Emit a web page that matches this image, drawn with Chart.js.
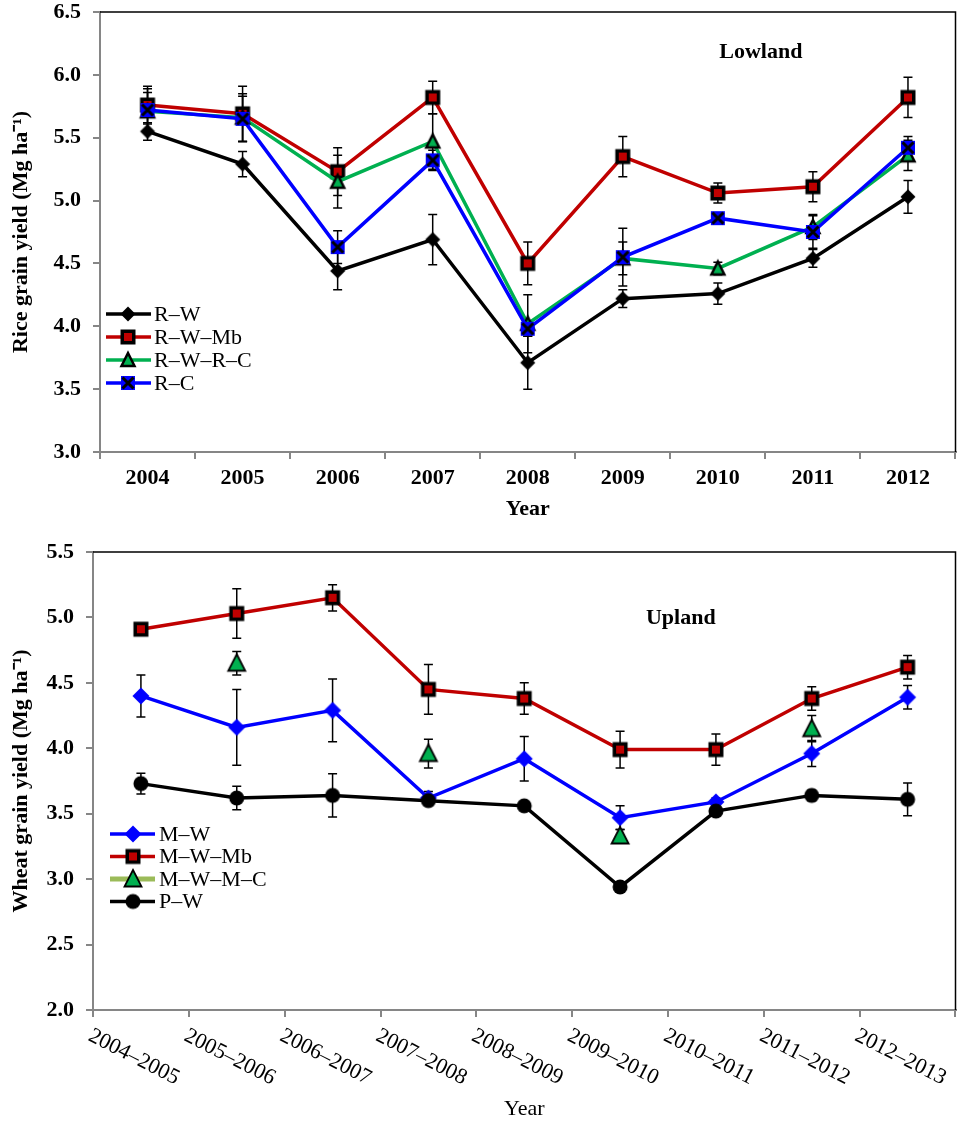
<!DOCTYPE html>
<html>
<head>
<meta charset="utf-8">
<script src="https://cdn.jsdelivr.net/npm/chart.js@4.4.0/dist/chart.umd.min.js"></script>
<style>
html,body{margin:0;padding:0;background:#fff;}
#wrap{position:relative;width:965px;height:1121px;overflow:hidden;}
#c1{position:absolute;left:0;top:0;}
#c2{position:absolute;left:0;top:520px;}
</style>
</head>
<body>
<div id="wrap">
<canvas id="c1" width="965" height="520"></canvas>
<canvas id="c2" width="965" height="601"></canvas>
</div>
<script>
const FONT = "'Liberation Serif', 'Times New Roman', serif";

// ---------- Top chart data (Lowland, rice) ----------
const years = ['2004','2005','2006','2007','2008','2009','2010','2011','2012'];
const riceRW      = [5.55, 5.29, 4.44, 4.69, 3.71, 4.22, 4.26, 4.54, 5.03];
const riceRWErr   = [0.07, 0.10, 0.15, 0.20, 0.21, 0.07, 0.085, 0.07, 0.13];
const riceRWMb    = [5.76, 5.69, 5.23, 5.82, 4.50, 5.35, 5.06, 5.11, 5.82];
const riceRWMbErr = [0.15, 0.22, 0.19, 0.13, 0.17, 0.16, 0.08, 0.12, 0.16];
const riceRWRC    = [5.71, 5.66, 5.15, 5.47, 4.02, 4.54, 4.46, 4.79, 5.36];
const riceRWRCErr = [0.15, 0.19, 0.21, 0.22, 0.23, 0.13, 0.05, 0.10, 0.12];
const riceRC      = [5.72, 5.65, 4.63, 5.32, 3.98, 4.55, 4.86, 4.75, 5.42];
const riceRCErr   = [0.17, 0.18, 0.13, 0.08, 0.06, 0.23, 0.02, 0.13, 0.09];
const riceLabels  = ['R–W', 'R–W–Mb', 'R–W–R–C', 'R–C'];

// ---------- Bottom chart data (Upland, wheat) ----------
const wheatYears   = ['2004–2005','2005–2006','2006–2007','2007–2008','2008–2009','2009–2010','2010–2011','2011–2012','2012–2013'];
const wheatMW      = [4.40, 4.16, 4.29, 3.62, 3.92, 3.47, 3.59, 3.96, 4.39];
const wheatMWErr   = [0.16, 0.29, 0.24, 0.05, 0.17, 0.09, 0.03, 0.10, 0.09];
const wheatMWMb    = [4.91, 5.03, 5.15, 4.45, 4.38, 3.99, 3.99, 4.38, 4.62];
const wheatMWMbErr = [0.03, 0.19, 0.10, 0.19, 0.12, 0.14, 0.12, 0.09, 0.09];
const wheatMWMC    = [null, 4.65, null, 3.96, null, 3.33, null, 4.15, null];
const wheatMWMCErr = [null, 0.09, null, 0.11, null, 0.05, null, 0.10, null];
const wheatPW      = [3.73, 3.62, 3.64, 3.60, 3.56, 2.94, 3.52, 3.64, 3.61];
const wheatPWErr   = [0.08, 0.09, 0.165, 0.03, 0.02, 0.04, 0.02, 0.04, 0.125];
const wheatLabels  = ['M–W', 'M–W–Mb', 'M–W–M–C', 'P–W'];

const riceYTicks  = {min: 3.0, max: 6.5, step: 0.5};
const wheatYTicks = {min: 2.0, max: 5.5, step: 0.5};

// ---------- marker images ----------
function marker(kind) {
  const s = 22;
  const c = document.createElement('canvas');
  c.width = s; c.height = s;
  const g = c.getContext('2d');
  const m = s / 2;
  g.lineJoin = 'miter';
  if (kind === 'diamondBlack' || kind === 'diamondBlue') {
    const h = kind === 'diamondBlack' ? 7.5 : 8.5;
    g.beginPath();
    g.moveTo(m, m - h); g.lineTo(m + h, m); g.lineTo(m, m + h); g.lineTo(m - h, m); g.closePath();
    g.fillStyle = kind === 'diamondBlack' ? '#000' : '#0000FF';
    g.fill();
  } else if (kind === 'squareRed') {
    g.fillStyle = '#000';
    g.fillRect(m - 7.5, m - 7.5, 15, 15);
    g.fillStyle = '#C00000';
    g.fillRect(m - 4, m - 4, 8, 8);
  } else if (kind === 'triSmall' || kind === 'triBig') {
    const w = kind === 'triSmall' ? 6.5 : 8.5;
    const hTop = kind === 'triSmall' ? 7 : 9;
    const hBot = kind === 'triSmall' ? 6 : 7.5;
    g.beginPath();
    g.moveTo(m, m - hTop); g.lineTo(m + w, m + hBot); g.lineTo(m - w, m + hBot); g.closePath();
    g.fillStyle = '#00B050';
    g.fill();
    g.strokeStyle = '#000';
    g.lineWidth = kind === 'triSmall' ? 2.5 : 1.8;
    g.stroke();
  } else if (kind === 'squareX') {
    g.fillStyle = '#0000FF';
    g.fillRect(m - 7, m - 7, 14, 14);
    g.strokeStyle = '#000';
    g.lineWidth = 3;
    g.beginPath();
    g.moveTo(m - 5.5, m - 5.5); g.lineTo(m + 5.5, m + 5.5);
    g.moveTo(m + 5.5, m - 5.5); g.lineTo(m - 5.5, m + 5.5);
    g.stroke();
  } else if (kind === 'circle') {
    g.beginPath();
    g.arc(m, m, 7.5, 0, Math.PI * 2);
    g.fillStyle = '#000';
    g.fill();
  }
  return c;
}

const mk = {
  diamondBlack: marker('diamondBlack'),
  diamondBlue: marker('diamondBlue'),
  squareRed: marker('squareRed'),
  triSmall: marker('triSmall'),
  triBig: marker('triBig'),
  squareX: marker('squareX'),
  circle: marker('circle')
};

// ---------- plugins ----------
const errorBarPlugin = {
  id: 'errorBars',
  beforeDatasetsDraw(chart) {
    const {ctx, scales: {x, y}} = chart;
    ctx.save();
    ctx.strokeStyle = '#000';
    ctx.lineWidth = 1.5;
    chart.data.datasets.forEach(ds => {
      const errs = ds.errorBars;
      if (!errs) return;
      ds.data.forEach((v, i) => {
        if (v === null || errs[i] === null) return;
        const px = x.getPixelForValue(i);
        const yt = y.getPixelForValue(v + errs[i]);
        const yb = y.getPixelForValue(v - errs[i]);
        ctx.beginPath();
        ctx.moveTo(px, yt); ctx.lineTo(px, yb);
        ctx.moveTo(px - 4.5, yt); ctx.lineTo(px + 4.5, yt);
        ctx.moveTo(px - 4.5, yb); ctx.lineTo(px + 4.5, yb);
        ctx.stroke();
      });
    });
    ctx.restore();
  }
};

const framePlugin = {
  id: 'frame',
  afterDraw(chart, args, opts) {
    const {ctx, chartArea: a} = chart;
    ctx.save();
    // top & right black border
    ctx.strokeStyle = '#000';
    ctx.lineWidth = 1.5;
    ctx.beginPath();
    ctx.moveTo(a.left, a.top); ctx.lineTo(a.right, a.top); ctx.lineTo(a.right, a.bottom);
    ctx.stroke();
    // annotation (panel name)
    ctx.fillStyle = '#000';
    ctx.font = 'bold 22px ' + FONT;
    ctx.textAlign = 'center';
    ctx.textBaseline = 'middle';
    ctx.fillText(opts.note, a.left + opts.noteX * (a.right - a.left), a.top + opts.noteY * (a.bottom - a.top));
    // legend
    const L = opts.legend;
    chart.data.datasets.forEach((ds, i) => {
      const yy = a.top + L.y0 + i * L.dy;
      ctx.strokeStyle = ds.legendLineColor || ds.borderColor;
      ctx.lineWidth = ds.legendLineWidth || 3.5;
      ctx.beginPath();
      ctx.moveTo(a.left + L.x1, yy); ctx.lineTo(a.left + L.x2, yy);
      ctx.stroke();
      const img = ds.pointStyle;
      ctx.drawImage(img, a.left + L.xm - img.width / 2, yy - img.height / 2);
      ctx.fillStyle = '#000';
      ctx.font = '22px ' + FONT;
      ctx.textAlign = 'left';
      ctx.textBaseline = 'middle';
      ctx.fillText(ds.label, a.left + L.xt, yy + 1);
    });
    ctx.restore();
  }
};

const rotatedLabelsPlugin = {
  id: 'rotLabels',
  afterDraw(chart, args, opts) {
    if (!opts.labels) return;
    const {ctx, chartArea: a, scales: {x}} = chart;
    ctx.save();
    ctx.fillStyle = '#000';
    ctx.font = '22px ' + FONT;
    ctx.textAlign = 'center';
    ctx.textBaseline = 'middle';
    opts.labels.forEach((lab, i) => {
      ctx.save();
      ctx.translate(x.getPixelForValue(i) - 7, a.bottom + 47);
      ctx.rotate(27 * Math.PI / 180);
      ctx.fillText(lab, 0, 0);
      ctx.restore();
    });
    ctx.restore();
  }
};

function lineDs(label, data, errs, color, img, order, extra) {
  return Object.assign({
    label: label,
    data: data,
    errorBars: errs,
    borderColor: color,
    backgroundColor: color,
    borderWidth: 3.5,
    pointStyle: img,
    pointRadius: 6,
    pointHoverRadius: 6,
    tension: 0,
    order: order,
    clip: false
  }, extra || {});
}

function axisCommon() {
  return {
    grid: {display: true, drawOnChartArea: false, drawTicks: true, tickLength: 7, color: '#868686', lineWidth: 2},
    border: {display: true, color: '#868686', width: 2}
  };
}

// ---------- top chart ----------
new Chart(document.getElementById('c1'), {
  type: 'line',
  data: {
    labels: years,
    datasets: [
      lineDs(riceLabels[0], riceRW, riceRWErr, '#000000', mk.diamondBlack, 3),
      lineDs(riceLabels[1], riceRWMb, riceRWMbErr, '#C00000', mk.squareRed, 2),
      lineDs(riceLabels[2], riceRWRC, riceRWRCErr, '#00B050', mk.triSmall, 1),
      lineDs(riceLabels[3], riceRC, riceRCErr, '#0000FF', mk.squareX, 0)
    ]
  },
  options: {
    responsive: false,
    animation: false,
    events: [],
    layout: {padding: {top: 12, right: 8, left: 0, bottom: 0}},
    plugins: {
      legend: {display: false},
      tooltip: {enabled: false},
      frame: {note: 'Lowland', noteX: 0.7725, noteY: 0.091,
              legend: {y0: 302, dy: 23, x1: 6, x2: 51, xm: 28, xt: 54}}
    },
    scales: {
      x: Object.assign(axisCommon(), {
        type: 'category',
        offset: true,
        grid: Object.assign(axisCommon().grid, {offset: true}),
        ticks: {font: {family: FONT, size: 22, weight: 'bold'}, color: '#000', padding: 6, maxRotation: 0, autoSkip: false},
        title: {display: true, text: 'Year', color: '#000', font: {family: FONT, size: 22, weight: 'bold', lineHeight: 1}, padding: {top: 0, bottom: 0}},
        afterFit: s => { s.height = 68; }
      }),
      y: Object.assign(axisCommon(), {
        min: riceYTicks.min, max: riceYTicks.max,
        ticks: {stepSize: riceYTicks.step, callback: v => Number(v).toFixed(1), font: {family: FONT, size: 22, weight: 'bold'}, color: '#000', padding: 12},
        title: {display: true, text: 'Rice grain yield (Mg ha⁻¹)', color: '#000', font: {family: FONT, size: 22, weight: 'bold'}, padding: {top: 8, bottom: 0}},
        afterFit: s => { s.width = 100; s.paddingTop = 0; s.paddingBottom = 0; }
      })
    }
  },
  plugins: [errorBarPlugin, framePlugin]
});

// ---------- bottom chart ----------
new Chart(document.getElementById('c2'), {
  type: 'line',
  data: {
    labels: wheatYears,
    datasets: [
      lineDs(wheatLabels[0], wheatMW, wheatMWErr, '#0000FF', mk.diamondBlue, 3),
      lineDs(wheatLabels[1], wheatMWMb, wheatMWMbErr, '#C00000', mk.squareRed, 2),
      lineDs(wheatLabels[2], wheatMWMC, wheatMWMCErr, '#00B050', mk.triBig, 1, {showLine: false, legendLineColor: '#9BBB59', legendLineWidth: 5}),
      lineDs(wheatLabels[3], wheatPW, wheatPWErr, '#000000', mk.circle, 0)
    ]
  },
  options: {
    responsive: false,
    animation: false,
    events: [],
    layout: {padding: {top: 32, right: 1, left: 0, bottom: 0}},
    plugins: {
      legend: {display: false},
      tooltip: {enabled: false},
      frame: {note: 'Upland', noteX: 0.6815, noteY: 0.1457,
              legend: {y0: 282, dy: 22.5, x1: 17, x2: 62, xm: 40, xt: 66}},
      rotLabels: {labels: wheatYears}
    },
    scales: {
      x: Object.assign(axisCommon(), {
        type: 'category',
        offset: true,
        grid: Object.assign(axisCommon().grid, {offset: true}),
        ticks: {display: false, autoSkip: false},
        title: {display: true, text: 'Year', color: '#000', font: {family: FONT, size: 22, weight: 'normal', lineHeight: 1}, padding: {top: 0, bottom: 1}},
        afterFit: s => { s.height = 111; }
      }),
      y: Object.assign(axisCommon(), {
        min: wheatYTicks.min, max: wheatYTicks.max,
        ticks: {stepSize: wheatYTicks.step, callback: v => Number(v).toFixed(1), font: {family: FONT, size: 22, weight: 'bold'}, color: '#000', padding: 12},
        title: {display: true, text: 'Wheat grain yield (Mg ha⁻¹)', color: '#000', font: {family: FONT, size: 22, weight: 'bold'}, padding: {top: 8, bottom: 0}},
        afterFit: s => { s.width = 93; s.paddingTop = 0; s.paddingBottom = 0; }
      })
    }
  },
  plugins: [errorBarPlugin, framePlugin, rotatedLabelsPlugin]
});
</script>
</body>
</html>
